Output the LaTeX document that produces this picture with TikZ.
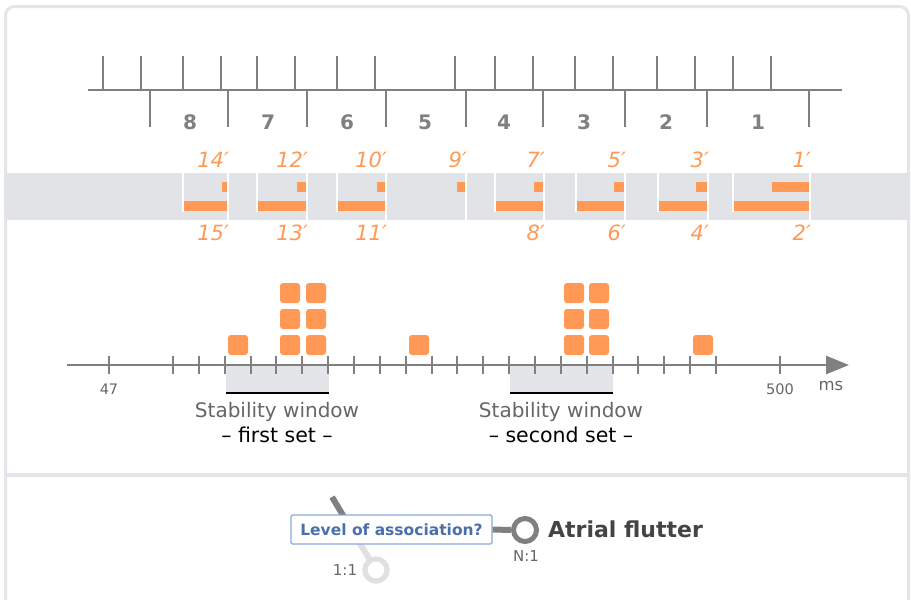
\documentclass[tikz,border=0pt]{standalone}
\usepackage{fontspec}
\setmainfont{DejaVu Sans}
\usetikzlibrary{arrows.meta,calc}
\definecolor{framec}{HTML}{E4E5E8}
\definecolor{rul}{HTML}{808080}
\definecolor{org}{HTML}{FF9955}
\definecolor{bandc}{HTML}{E1E3E7}
\definecolor{blu}{HTML}{4A70AA}
\definecolor{blub}{HTML}{8AA8DA}
\definecolor{txtg}{HTML}{666666}
\definecolor{dark}{HTML}{444444}
\definecolor{lightc}{HTML}{E0E0E0}
\begin{document}
\begin{tikzpicture}[x=1pt,y=-1pt,
  rulline/.style={rul,line width=2.6},
  rulnum/.style={text=rul,font=\fontsize{20}{24}\selectfont\bfseries,inner sep=0},
  olab/.style={text=org,font=\fontsize{21}{24}\selectfont\itshape,inner sep=0,anchor=east},
  obar/.style={fill=org},
  sepline/.style={white,line width=1.5},
  axtick/.style={rul,line width=2.2},
  blk/.style={fill=org,rounded corners=3,minimum size=20,inner sep=0,draw=none},
  ticklab/.style={text=txtg,font=\fontsize{14.5}{17}\selectfont,inner sep=0},
  wintxt/.style={text=txtg,font=\fontsize{20}{24}\selectfont,inner sep=0},
  setxt/.style={text=black,font=\fontsize{20.5}{24}\selectfont,inner sep=0},
  winbox/.style={fill=framec}
]
\clip (0,0) rectangle (911,600);
\fill[white] (0,0) rectangle (911,600);
% frame
\draw[framec,line width=3,rounded corners=9] (5.5,6.5) rectangle (908.5,660);
\draw[framec,line width=4] (5.5,475) -- (908.5,475);

% top ruler
\draw[rulline] (88,90) -- (842,90);
\foreach \x in {103,141,183,221,257,295,337,375,455,495,533,575,613,657,695,733,771}
  \draw[rulline] (\x,90) -- (\x,56);
\foreach \x in {150,228,307,386,466,543,625,707,809}
  \draw[rulline] (\x,90) -- (\x,127);
\foreach \x/\n in {190/8,268/7,347/6,425/5,504/4,584/3,666/2,758/1}
  \node[rulnum] (num\n) at (\x,122) {\n};

% band
\fill[bandc] (5,173) rectangle (908.5,220);
\foreach \s/\e/\m/\t/\b in {183/228/222/14/15,257/307/297/12/13,337/386/377/10/11,495/544/534/7/8,576/625/614/5/6,658/708/696/3/4,733/810/772/1/2}{
  \fill[obar] (\m,182) rectangle (\e,192);
  \fill[obar] (\s,201) rectangle (\e,211);
  \draw[sepline] (\s,173) -- (\s,212);
  \draw[sepline] (\e,173) -- (\e,220);
  \node[olab] (t\t) at (\e+1,160) {\t′};
  \node[olab] (b\b) at (\e+1,233) {\b′};
}
\fill[obar] (457,182) rectangle (466,192);
\draw[sepline] (466,173) -- (466,220);
\node[olab] (t9) at (467,160) {9′};

% stability windows
\fill[winbox] (226,365) rectangle (329,393);
\fill[winbox] (510,365) rectangle (613,393);
\draw[black,line width=2] (226,393) -- (329,393);
\draw[black,line width=2] (510,393) -- (613,393);

% timeline axis
\draw[rul,line width=2.6,-{Triangle[length=23,width=18]}] (67,365) -- (849,365);
\foreach \i in {0,...,21}{
  \pgfmathsetmacro{\tx}{round(173+\i*25.857)}
  \draw[axtick] (\tx,356) -- (\tx,374);
}
\draw[axtick] (109,356) -- (109,374);
\draw[axtick] (780,356) -- (780,374);
\node[ticklab] (l47) at (109,389) {47};
\node[ticklab] (l500) at (780,389) {500};
\node[text=txtg,font=\fontsize{16.5}{20}\selectfont,inner sep=0] (lms) at (831,386) {ms};

% blocks
\foreach \x/\y [count=\k] in {238/345,290/345,290/319,290/293,316/345,316/319,316/293,419/345,574/345,574/319,574/293,599/345,599/319,599/293,703/345}
  \node[blk] (blk\k) at (\x,\y) {};

% window texts
\node[wintxt] (sw1) at (277,412) {Stability window};
\node[setxt] (fs) at (277,435) {– first set –};
\node[wintxt] (sw2) at (561,412) {Stability window};
\node[setxt] (ss) at (561,435) {– second set –};

% bottom association
\coordinate (dtop) at (332,497);
\node[circle,draw=lightc,line width=5,fill=white,minimum size=22,inner sep=0] (c11) at (376,570) {};
\draw[lightc,line width=6] ($(dtop)!0.35!(c11)$) -- (c11);
\draw[rul,line width=6] (dtop) -- ($(dtop)!0.36!(c11)$);
\node[circle,draw=lightc,line width=5,fill=white,minimum size=22,inner sep=0] at (376,570) {};
\node[circle,draw=rul,line width=5,fill=white,minimum size=23,inner sep=0] (n1) at (525,530) {};
\node[draw=blub,line width=1.2,fill=white,rounded corners=1.5,minimum width=201,minimum height=29,inner sep=0,
  text=blu,font=\fontsize{15.5}{18}\selectfont\bfseries] (loa) at (391.5,529.5) {Level of association?};
\draw[rul,line width=6] (loa.east) -- (n1.west);
\node[text=dark,font=\fontsize{22}{26}\selectfont\bfseries,anchor=west,inner sep=0] (af) at (548,529) {Atrial flutter};
\node[text=txtg,font=\fontsize{15}{17}\selectfont,inner sep=0] (ln1) at (526,556) {N:1};
\node[text=txtg,font=\fontsize{15}{17}\selectfont,inner sep=0] (l11) at (345,570) {1:1};
\end{tikzpicture}
\end{document}
